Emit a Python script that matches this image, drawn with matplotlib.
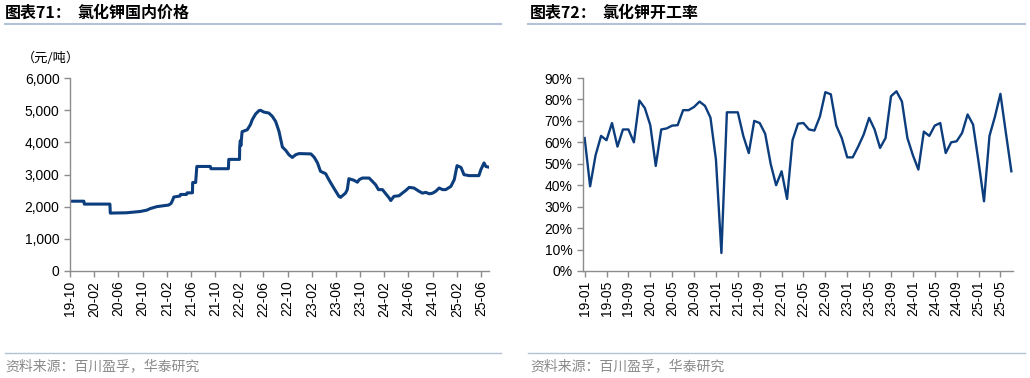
import matplotlib
matplotlib.use("Agg")
import matplotlib.pyplot as plt
from matplotlib.lines import Line2D
import pandas as pd

plt.rcParams['font.family'] = ['Liberation Sans', 'Noto Sans CJK SC', 'DejaVu Sans']

# ---------------- data: left chart (KCl domestic price, yuan/ton) ----------------
price_dates = [
    "2019-10-01", "2019-12-10", "2019-12-12", "2020-04-19", "2020-04-21", "2020-07-12",
    "2020-08-15", "2020-09-18", "2020-10-21", "2020-11-08", "2020-12-11", "2021-01-15",
    "2021-02-09", "2021-02-21", "2021-03-01", "2021-03-07", "2021-04-07", "2021-04-10",
    "2021-05-10", "2021-05-13", "2021-06-09", "2021-06-10", "2021-06-25", "2021-07-01",
    "2021-09-07", "2021-09-10", "2021-12-07", "2021-12-09", "2022-02-01", "2022-02-02",
    "2022-02-05", "2022-02-08", "2022-02-14", "2022-03-12", "2022-03-28", "2022-04-06",
    "2022-04-23", "2022-05-10", "2022-05-18", "2022-06-04", "2022-06-29", "2022-07-16",
    "2022-08-02", "2022-08-19", "2022-09-05", "2022-09-22", "2022-10-08", "2022-10-25",
    "2022-11-11", "2022-11-28", "2023-01-27", "2023-02-13", "2023-03-01", "2023-03-16",
    "2023-04-11", "2023-04-27", "2023-05-22", "2023-06-17", "2023-06-25", "2023-07-20",
    "2023-07-29", "2023-08-06", "2023-09-01", "2023-09-18", "2023-09-27", "2023-10-13",
    "2023-11-16", "2023-12-02", "2023-12-19", "2024-01-02", "2024-01-22", "2024-02-08",
    "2024-02-25", "2024-03-04", "2024-03-20", "2024-04-15", "2024-05-01", "2024-05-18",
    "2024-06-05", "2024-06-29", "2024-07-24", "2024-08-11", "2024-08-27", "2024-09-14",
    "2024-10-01", "2024-10-17", "2024-11-03", "2024-11-20", "2024-12-06", "2025-01-01",
    "2025-01-18", "2025-02-01", "2025-02-21", "2025-03-08", "2025-04-03", "2025-05-22",
    "2025-06-01", "2025-06-17", "2025-06-26", "2025-07-09",
]
price_values = [
    2170, 2170, 2080, 2080, 1800, 1810,
    1830, 1850, 1890, 1940, 2000, 2030,
    2050, 2100, 2200, 2300, 2330, 2380,
    2380, 2430, 2430, 2750, 2750, 3250,
    3250, 3180, 3180, 3470, 3470, 3850,
    4050, 3900, 4330, 4390, 4550, 4700,
    4880, 4985, 4995, 4940, 4910, 4810,
    4650, 4340, 3855, 3750, 3615, 3530,
    3615, 3650, 3640, 3530, 3360, 3100,
    3025, 2840, 2580, 2320, 2290, 2420,
    2530, 2870, 2820, 2760, 2840, 2890,
    2890, 2790, 2680, 2530, 2530, 2400,
    2270, 2190, 2320, 2340, 2420, 2500,
    2600, 2580, 2480, 2420, 2445, 2400,
    2420, 2480, 2580, 2530, 2530, 2630,
    2840, 3275, 3220, 2995, 2965, 2965,
    3150, 3360, 3250, 3230,
]
left_ticks = ["19-10", "20-02", "20-06", "20-10", "21-02", "21-06", "21-10", "22-02", "22-06",
              "22-10", "23-02", "23-06", "23-10", "24-02", "24-06", "24-10", "25-02", "25-06"]
left_yticks = [0, 1000, 2000, 3000, 4000, 5000, 6000]

# ---------------- data: right chart (KCl operating rate, %) ----------------
rate_months = pd.date_range("2019-01-01", "2025-07-01", freq="MS").strftime("%y-%m").tolist()
rate_values = [
    62, 39.5, 54, 63, 61, 69, 58, 66, 66, 60, 79.5, 76,      # 2019
    68, 49, 66, 66.5, 67.8, 68, 75, 75, 76.5, 79, 77, 71.5,  # 2020
    52, 8.4, 74, 74, 74, 63, 55, 70, 69, 64, 50, 40,         # 2021
    46.5, 33.6, 61, 68.7, 69, 66, 65.5, 72, 83.4, 82.4, 67.8, 62,  # 2022
    53, 53, 58, 63.6, 71.4, 66, 57.4, 62, 81.5, 83.8, 79, 62,      # 2023
    54, 47.3, 65, 63, 67.8, 69, 55, 60, 60.5, 64.4, 73, 68.3,      # 2024
    51, 32.5, 63, 72, 82.6, 64.4, 46.5,                            # 2025
]
right_ticks = ["19-01", "19-05", "19-09", "20-01", "20-05", "20-09", "21-01", "21-05", "21-09",
               "22-01", "22-05", "22-09", "23-01", "23-05", "23-09", "24-01", "24-05", "24-09",
               "25-01", "25-05"]
right_yticks = [0, 10, 20, 30, 40, 50, 60, 70, 80, 90]

# ---------------- styling ----------------
W, H = 1030, 378
LINE = "#0c3d7d"
SPINE = "#8c8c8c"
RULE = "#b3c2d6"
CJK = ['Noto Sans CJK SC', 'DejaVu Sans']

fig = plt.figure(figsize=(W / 100, H / 100), dpi=100)

def fx(px):
    return px / W

def fy(py):
    return 1 - py / H

def style_axes(ax):
    for s in ["top", "right"]:
        ax.spines[s].set_visible(False)
    for s in ["left", "bottom"]:
        ax.spines[s].set_color(SPINE)
        ax.spines[s].set_linewidth(1.0)
    ax.tick_params(axis="both", colors=SPINE, labelcolor="black", labelsize=10,
                   length=4, width=1.0, direction="out")
    ax.tick_params(axis="x", labelrotation=90, pad=3)

# left chart
axL = fig.add_axes([fx(70), fy(271), fx(489) - fx(70), fy(78) - fy(271)])
d = pd.to_datetime(price_dates)
axL.plot(d, price_values, color=LINE, lw=2.2, solid_joinstyle="round")
tick_dates = pd.to_datetime(["20" + t + "-01" for t in left_ticks])
axL.set_xticks(tick_dates)
axL.set_xticklabels(left_ticks)
axL.set_xlim(pd.Timestamp("2019-10-01"), pd.Timestamp("2025-07-12"))
axL.set_ylim(0, 6000)
axL.set_yticks(left_yticks)
axL.set_yticklabels([f"{v:,}" for v in left_yticks])
style_axes(axL)

# right chart
axR = fig.add_axes([fx(583), fy(271), fx(1013) - fx(583), fy(78) - fy(271)])
xi = list(range(len(rate_values)))
axR.plot(xi, rate_values, color=LINE, lw=1.7, solid_joinstyle="round")
axR.set_xticks([rate_months.index(t) for t in right_ticks])
axR.set_xticklabels(right_ticks)
axR.set_xlim(-0.3, len(rate_values) - 0.7)
axR.set_ylim(0, 90)
axR.set_yticks(right_yticks)
axR.set_yticklabels([f"{v}%" for v in right_yticks])
style_axes(axR)

# titles and rules
fig.text(fx(5), fy(13), "图表71：", family=CJK, fontsize=11.5,
         fontweight="bold", va="center", ha="left")
fig.text(fx(77), fy(13), "氯化钾国内价格", family=CJK, fontsize=11.5,
         fontweight="bold", va="center", ha="left")
fig.text(fx(530), fy(13), "图表72：", family=CJK, fontsize=11.5,
         fontweight="bold", va="center", ha="left")
fig.text(fx(602), fy(13), "氯化钾开工率", family=CJK, fontsize=11.5,
         fontweight="bold", va="center", ha="left")
for x0, x1 in [(5, 501), (528, 1025)]:
    fig.add_artist(Line2D([fx(x0), fx(x1)], [fy(24), fy(24)], color=RULE, lw=1.5))
    fig.add_artist(Line2D([fx(x0), fx(x1)], [fy(353), fy(353)], color=RULE, lw=1.0))

fig.text(fx(22), fy(58), "（元/吨）", family=CJK, fontsize=9.5, va="center", ha="left")

fig.text(fx(5), fy(366), "资料来源：百川盈孚，华泰研究", family=CJK, fontsize=10,
         color="#8a8a8a", va="center", ha="left")
fig.text(fx(530), fy(366), "资料来源：百川盈孚，华泰研究", family=CJK, fontsize=10,
         color="#8a8a8a", va="center", ha="left")

fig.savefig("out.png", dpi=100)
